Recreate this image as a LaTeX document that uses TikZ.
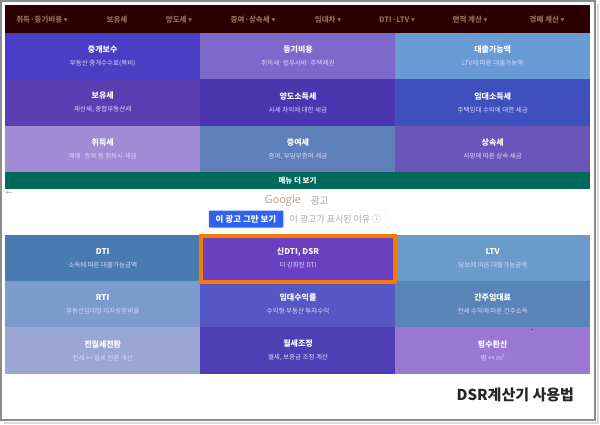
\documentclass[tikz,border=0pt]{standalone}
\usepackage{fontspec}
\setmainfont{Noto Sans CJK KR}
\newfontfamily\latinfont{Open Sans}
\newfontfamily\symbolfont{DejaVu Sans}
\definecolor{navdark}{HTML}{2A0000}
\definecolor{navtext}{HTML}{8F6F58}
\definecolor{morebar}{HTML}{01695C}
\definecolor{framegray}{HTML}{8C8C8C}
\definecolor{adblue}{HTML}{2F62F0}
\definecolor{adtan}{HTML}{B5A39B}
\definecolor{markorange}{HTML}{F57C00}
\tikzset{
  tile/.style={inner sep=0pt,minimum width=195.4pt,minimum height=46.6pt,text=white,align=center,font=\fontsize{6.5}{13}\selectfont},
  navitem/.style={text=navtext,font=\fontsize{7.5}{9}\bfseries\selectfont},
}
\newcommand{\tiletext}[2]{{\fontsize{8}{13}\bfseries\selectfont #1}\\{\color{white!85!blue}#2}}
\newcommand{\caret}{{\symbolfont\fontsize{7.5}{9}\selectfont ▾}}
\begin{document}
\begin{tikzpicture}[x=1pt,y=-1pt]
    \useasboundingbox (0,0) rectangle (600,425);
    % frame
    \fill[white] (0,0) rectangle (600,425);
    \draw[black!15,line width=2pt] (597.5,4) -- (597.5,422.5) -- (4,422.5);
    \draw[framegray,line width=1.6pt] (0.8,0.8) rectangle (595,420);
    % menu bar
    \fill[navdark] (5,5) rectangle (590,33);
    \foreach \x/\name/\label in {42/tax/{취득·등기비용 \caret},117/hold/보유세,179/sale/{양도세 \caret},253/gift/{증여·상속세 \caret},
        328/rent/{임대차 \caret},397/dti/{DTI·LTV \caret},470/area/{면적 계산 \caret},547/auction/{경매 계산 \caret}}
        \node[navitem] (nav\name) at (\x,19.3) {\label};
    % first block
    \foreach \x/\y/\c/\name/\a/\b in {
        102.7/56.2/4A3FC4/agent/중개보수/부동산 중개수수료(복비),
        298/56.2/7D69C9/reg/등기비용/취득세·법무사비·주택채권,
        492.7/56.2/6A9AD4/loan/대출가능액/LTV에 따른 대출가능액,
        102.7/102.5/5A3EB2/hold/보유세/{재산세, 종합부동산세},
        298/102.5/4A37B0/gain/양도소득세/시세 차익에 대한 세금,
        492.7/102.5/3F4FBD/income/임대소득세/주택임대 수익에 대한 세금,
        102.7/148.9/A08BD4/buy/취득세/매매·증여 등 취득시 세금,
        298/148.9/5F80B8/giftbox/증여세/{증여, 부담부증여 세금},
        492.7/148.9/6A56B8/inherit/상속세/사망에 따른 상속 세금}
    {
        \definecolor{tilefill}{HTML}{\c}
        \node[tile,fill=tilefill] (\name) at (\x,\y) {\tiletext{\a}{\b}};
    }
    \node[fill=morebar,text=white,inner sep=0pt,minimum width=585pt,minimum height=16.5pt,font=\fontsize{7.5}{9}\bfseries\selectfont] (more) at (297.5,180.5) {메뉴 더 보기};
    % ad
    \node[text=adtan,font=\fontsize{8}{9}\symbolfont\selectfont] (back) at (9,193.5) {←};
    \node[text=adtan!80!brown,anchor=east,font=\fontsize{11}{14}\latinfont\selectfont] (google) at (304.5,201) {Google};
    \node[text=adtan,anchor=west,font=\fontsize{10}{11}\selectfont] (adword) at (307,201) {광고};
    \node[fill=adblue,text=white,rounded corners=1pt,inner sep=0pt,minimum width=74.5pt,minimum height=17pt,font=\fontsize{8.5}{9}\bfseries\selectfont] (stop) at (246,219) {이 광고 그만 보기};
    \node[fill=white,draw=black!6,text=adtan,rounded corners=1pt,inner sep=0pt,minimum width=102pt,minimum height=17pt,font=\fontsize{9}{9}\selectfont] (why) at (335.5,219) {이 광고가 표시된 이유 ⓘ};
    % second block
    \foreach \x/\y/\c/\name/\a/\b in {
        102.7/258.2/4A7BB0/dtibox/DTI/소득에 따른 대출가능금액,
        298/258.2/6A40C0/dsr/{신DTI, DSR}/더 강화된 DTI,
        492.7/258.2/6B9BCB/ltv/LTV/담보에 따른 대출가능금액,
        102.7/304.3/7A9BCB/rti/RTI/부동산임대업 이자상환비율,
        298/304.3/5558C4/yield/임대수익률/수익형 부동산 투자수익,
        492.7/304.3/5A85B8/deemed/간주임대료/전세 수익에 따른 간주소득,
        102.7/350.4/9CA6D4/convert/전월세전환/전세 ↔ 월세 전환 계산,
        298/350.4/4E40B4/adjust/월세조정/{월세, 보증금 조정 계산},
        492.7/350.4/9A78D4/pyeong/평수환산/평 ↔ m²}
    {
        \definecolor{tilefill}{HTML}{\c}
        \node[tile,fill=tilefill] (\name) at (\x,\y) {\tiletext{\a}{\b}};
    }
    \draw[markorange,line width=3.8pt] ([xshift=0.5pt,yshift=-1.5pt]dsr.north west) rectangle ([xshift=-1pt,yshift=-0.5pt]dsr.south east);
    \fill[red] (532,329.5) circle (0.8);
    \node[text=black!85,anchor=east,font=\fontsize{15}{17}\bfseries\selectfont] (caption) at (577.5,394.5) {DSR계산기 사용법};
\end{tikzpicture}
\end{document}
